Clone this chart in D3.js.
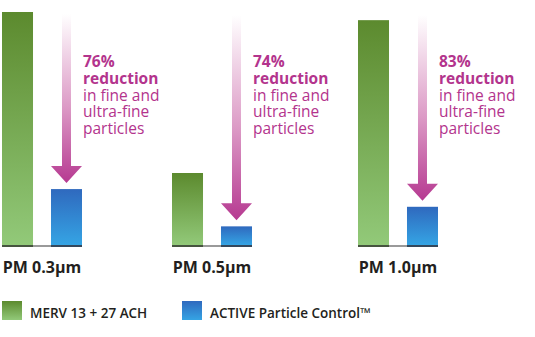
<!DOCTYPE html>
<html>
<head>
<meta charset="utf-8">
<script src="https://cdn.jsdelivr.net/npm/d3@7"></script>
<style>
  html, body { margin: 0; padding: 0; background: #fff; }
  svg { display: block; font-family: "Open Sans", sans-serif; }
</style>
</head>
<body>
<svg id="chart" width="535" height="337"></svg>
<script>
// Particle sizes and relative particle concentration for each system
const categories = ["PM 0.3µm", "PM 0.5µm", "PM 1.0µm"];
const seriesNames = ["MERV 13 + 27 ACH", "ACTIVE Particle Control™"];
const mervValues = [100, 30.9, 96.5];
const activeValues = [24, 8.0, 16.4];
const reductionPct = [76, 74, 83];
const noteLines = ["in fine and", "ultra-fine", "particles"];

const svg = d3.select("#chart");
const defs = svg.append("defs");

function vGrad(id, top, bottom) {
  const g = defs.append("linearGradient").attr("id", id)
    .attr("x1", 0).attr("y1", 0).attr("x2", 0).attr("y2", 1);
  g.append("stop").attr("offset", "0%").attr("stop-color", top);
  g.append("stop").attr("offset", "100%").attr("stop-color", bottom);
}
vGrad("gGreen", "#5c8a2e", "#92c979");
vGrad("gBlue", "#2f69be", "#35a4e4");
const arrowGrad = defs.append("linearGradient").attr("id", "gArrow")
  .attr("x1", 0).attr("y1", 0).attr("x2", 0).attr("y2", 1);
arrowGrad.append("stop").attr("offset", "0%").attr("stop-color", "#ffffff");
arrowGrad.append("stop").attr("offset", "55%").attr("stop-color", "#dc9ac6");
arrowGrad.append("stop").attr("offset", "100%").attr("stop-color", "#b63a91");

const baseY = 245;
const y = d3.scaleLinear().domain([0, 100]).range([baseY, 12]);

// group left edges and inner band for the two series
const groupX = d3.scaleOrdinal().domain(categories).range([2, 172, 358]);
const groupWidth = 80;
const inner = d3.scaleBand().domain(seriesNames).range([0, groupWidth])
  .paddingInner(0.367).paddingOuter(0);
const bw = inner.bandwidth();

const rows = categories.map((c, i) => ({
  cat: c, merv: mervValues[i], active: activeValues[i], pct: reductionPct[i]
}));

const groups = svg.selectAll("g.grp").data(rows).join("g")
  .attr("class", "grp")
  .attr("transform", d => `translate(${groupX(d.cat)},0)`);

// baseline
groups.append("rect")
  .attr("x", 0).attr("width", groupWidth)
  .attr("y", baseY).attr("height", 2)
  .attr("fill", "#9a9a9a");

// bars
groups.append("rect")
  .attr("x", inner(seriesNames[0])).attr("width", bw)
  .attr("y", d => y(d.merv)).attr("height", d => baseY - y(d.merv))
  .attr("fill", "url(#gGreen)");
groups.append("rect")
  .attr("x", inner(seriesNames[1])).attr("width", bw)
  .attr("y", d => y(d.active)).attr("height", d => baseY - y(d.active))
  .attr("fill", "url(#gBlue)");
groups.selectAll("rect.foot").data(seriesNames).join("rect")
  .attr("class", "foot")
  .attr("x", s => inner(s)).attr("width", bw)
  .attr("y", baseY).attr("height", 2)
  .attr("fill", (s, i) => i === 0 ? "#46543f" : "#34485c");

// reduction arrows over the blue bars
const shaftW = 9, headW = bw, headH = 17;
groups.append("path")
  .attr("d", d => {
    const cx = inner(seriesNames[1]) + bw / 2;
    const tip = y(d.active) - 6;
    const top = Math.min(y(d.merv) + 2, 15);
    const hb = tip - headH;
    return `M${cx - shaftW / 2},${top} L${cx + shaftW / 2},${top} L${cx + shaftW / 2},${hb}` +
      ` L${cx + headW / 2},${hb} L${cx},${tip} L${cx - headW / 2},${hb} L${cx - shaftW / 2},${hb} Z`;
  })
  .attr("fill", "url(#gArrow)");

// annotation text
const noteX = inner(seriesNames[1]) + bw + 1;
const note = groups.append("text")
  .attr("fill", "#b3348d")
  .style("font-size", "15.5px");
note.append("tspan").attr("x", noteX).attr("y", 67)
  .style("font-weight", 700).text(d => d.pct + "%");
note.append("tspan").attr("x", noteX).attr("y", 83.5)
  .style("font-weight", 700).text("reduction");
noteLines.forEach((t, i) => {
  note.append("tspan").attr("x", noteX).attr("y", 100.5 + i * 16.6)
    .text(t);
});

// category labels
groups.append("text")
  .attr("x", groupWidth / 2).attr("y", 273)
  .attr("text-anchor", "middle")
  .attr("fill", "#231f20")
  .style("font-size", "16px").style("font-weight", 700)
  .text(d => d.cat);

// legend
const legendX = [2, 182];
const legend = svg.selectAll("g.leg").data(seriesNames).join("g")
  .attr("class", "leg")
  .attr("transform", (d, i) => `translate(${legendX[i]},301)`);
legend.append("rect").attr("width", 20).attr("height", 19)
  .attr("fill", (d, i) => i === 0 ? "url(#gGreen)" : "url(#gBlue)");
legend.append("text").attr("x", 28).attr("y", 17)
  .attr("fill", "#231f20")
  .style("font-size", "13.5px").style("font-weight", 600)
  .text(d => d);
</script>
</body>
</html>
